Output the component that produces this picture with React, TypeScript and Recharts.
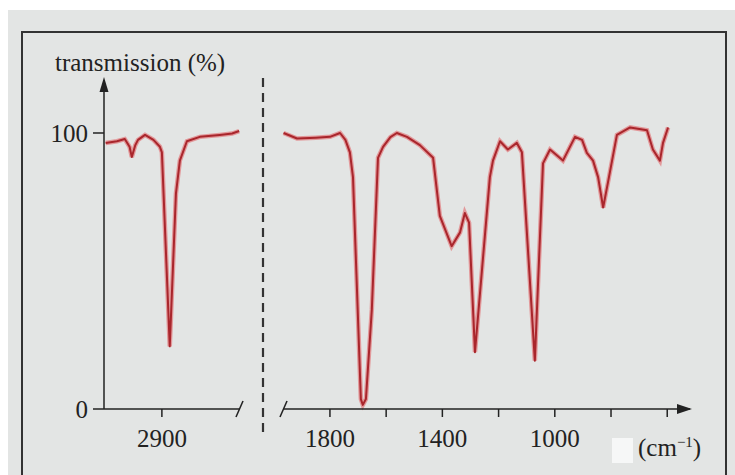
import { LineChart, Line, XAxis, YAxis } from 'recharts'

// IR spectrum (wavenumber in cm-1, transmission in %)
const leftWavenumbers = [3100, 3060, 3032, 3015, 3007, 2995, 2985, 2960, 2930, 2907, 2900, 2872, 2850, 2836, 2811, 2765, 2694, 2650, 2625]
const leftTransmission = [96.4, 97, 97.8, 95, 91.3, 95.5, 97.5, 99.3, 97.5, 95, 93, 22.7, 78, 90, 97, 98.6, 99.3, 99.8, 100.7]

const rightWavenumbers = [
  1965, 1917, 1850, 1800, 1764, 1745, 1729, 1718, 1690, 1683, 1672, 1651, 1629, 1611, 1585, 1562, 1526, 1480,
  1433, 1409, 1367, 1337, 1320, 1305, 1284, 1231, 1220, 1195, 1167, 1135, 1117, 1071, 1042, 1017, 971, 928,
  903, 886, 864, 846, 828, 811, 779, 732, 672, 651, 626, 615, 597,
]
const rightTransmission = [
  100, 98, 98.3, 98.6, 100, 97.5, 93, 84, 3.6, 1.5, 3.6, 36, 91, 95, 98.5, 100, 98.6, 95.6,
  91, 70, 59, 64, 71, 67.5, 20.6, 84, 90, 97, 94, 96.4, 93, 17.5, 89, 94, 90, 98.6,
  97.5, 92.8, 90, 84, 73, 82, 99.3, 102, 101, 94, 90, 96.4, 102,
]

const leftTicks = [2900]
const rightTicks = [1800, 1600, 1400, 1200, 1000, 800, 600]
const labelledTicks = [2900, 1800, 1400, 1000]
const yTicks = [0, 100]

const leftData = leftWavenumbers.map((w, i) => ({ w, t: leftTransmission[i] }))
const rightData = rightWavenumbers.map((w, i) => ({ w, t: rightTransmission[i] }))

const FONT = '"Liberation Serif", "DejaVu Serif", serif'
const INK = '#222'
const HALO = '#e25a5c'
const CORE = '#a9262c'
const Y_DOMAIN: [number, number] = [0, 119.2]

const tickStyle = { fontSize: 25, fill: INK, fontFamily: FONT }
const fmt = (v: number) => (labelledTicks.includes(v) ? String(v) : '')

function Spectrum({ data }: { data: { w: number; t: number }[] }) {
  return [
    <Line key="halo" data={data} dataKey="t" type="linear" stroke={HALO} strokeOpacity={0.55} strokeWidth={4.5} dot={false} isAnimationActive={false} />,
    <Line key="core" data={data} dataKey="t" type="linear" stroke={CORE} strokeWidth={2} strokeLinejoin="round" dot={false} isAnimationActive={false} />,
  ]
}

export default function App() {
  return (
    <div style={{ position: 'absolute', left: 0, top: 0, width: 735, height: 475, background: '#fff', overflow: 'hidden' }}>
      <div style={{ position: 'absolute', left: 8, top: 10, right: 0, bottom: 0, background: '#e3e5e4' }} />
      <svg width={735} height={475} style={{ position: 'absolute', left: 0, top: 0 }}>
        <rect x={22} y={32} width={704} height={480} fill="none" stroke="#333" strokeWidth={2} />
      </svg>

      {/* left part: C-H region */}
      <div style={{ position: 'absolute', left: 0, top: 0 }}>
        <LineChart width={240} height={469} margin={{ top: 80, right: 0, bottom: 0, left: 0 }}>
          <XAxis
            dataKey="w"
            type="number"
            domain={[2622, 3106]}
            reversed
            ticks={leftTicks}
            tickFormatter={fmt}
            height={60}
            tickSize={8}
            tickMargin={12}
            tick={tickStyle}
            axisLine={{ stroke: INK, strokeWidth: 1.5 }}
            tickLine={{ stroke: INK, strokeWidth: 1.5 }}
            allowDataOverflow
          />
          <YAxis
            type="number"
            domain={Y_DOMAIN}
            ticks={yTicks}
            width={104}
            tickSize={11}
            tickMargin={5}
            tick={tickStyle}
            axisLine={{ stroke: INK, strokeWidth: 1.5 }}
            tickLine={{ stroke: INK, strokeWidth: 1.5 }}
          />
          {Spectrum({ data: leftData })}
        </LineChart>
      </div>

      {/* right part: fingerprint region */}
      <div style={{ position: 'absolute', left: 0, top: 0 }}>
        <LineChart width={690} height={469} margin={{ top: 80, right: 0, bottom: 0, left: 283 }}>
          <XAxis
            dataKey="w"
            type="number"
            domain={[519, 1967]}
            reversed
            ticks={rightTicks}
            tickFormatter={fmt}
            height={60}
            tickSize={8}
            tickMargin={12}
            tick={tickStyle}
            axisLine={{ stroke: INK, strokeWidth: 1.5 }}
            tickLine={{ stroke: INK, strokeWidth: 1.5 }}
          />
          <YAxis type="number" domain={Y_DOMAIN} hide />
          {Spectrum({ data: rightData })}
        </LineChart>
      </div>

      {/* decorations: arrows, axis breaks, divider, labels */}
      <svg width={735} height={475} style={{ position: 'absolute', left: 0, top: 0 }}>
        <line x1={263} y1={78} x2={263} y2={432} stroke="#333" strokeWidth={2.2} strokeDasharray="9 6" />
        <polygon points="104,77 99.5,92 108.5,92" fill={INK} />
        <polygon points="692,409 677,404 677,414" fill={INK} />
        <line x1={236} y1={417} x2={243} y2={401} stroke={INK} strokeWidth={1.6} />
        <line x1={280} y1={417} x2={287} y2={401} stroke={INK} strokeWidth={1.6} />
        <text x={55} y={71} fontSize={25} fill={INK} fontFamily={FONT}>transmission (%)</text>
        <rect x={612} y={438} width={21} height={25} fill="#f6f7f7" />
        <text x={638} y={456} fontSize={25} fill={INK} fontFamily={FONT}>
          (cm<tspan fontSize={15} dy={-9}>−1</tspan><tspan dy={9}>)</tspan>
        </text>
      </svg>
    </div>
  )
}
